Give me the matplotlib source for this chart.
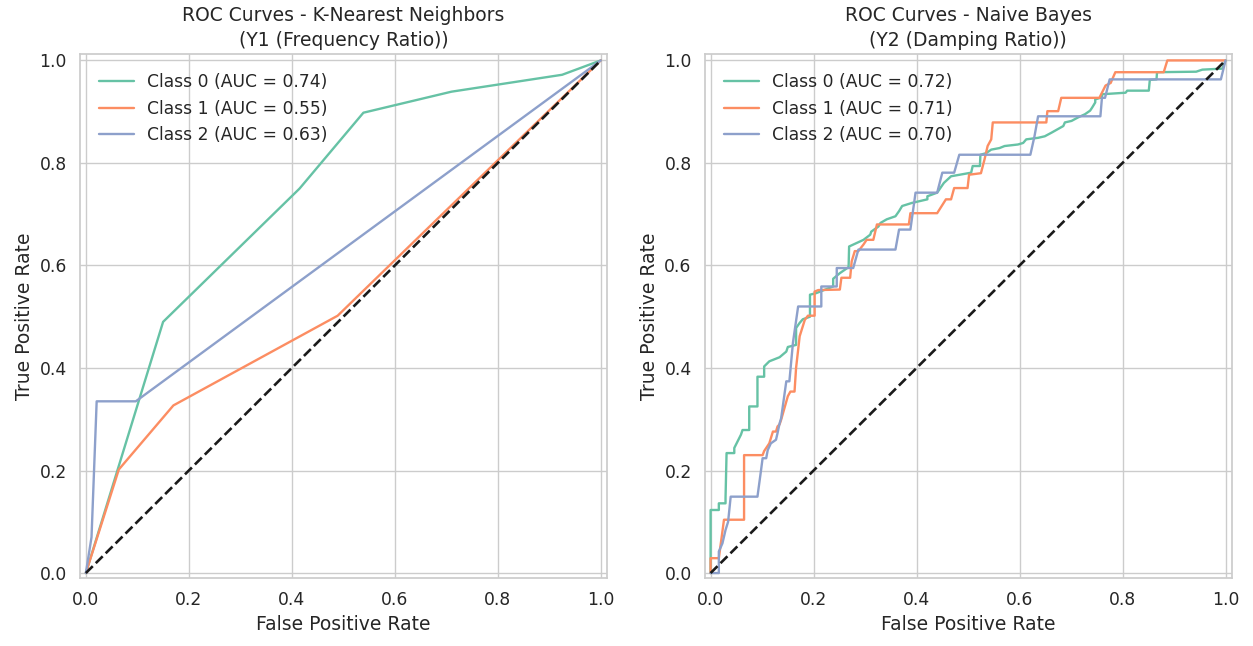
import matplotlib
matplotlib.use("Agg")
import matplotlib.pyplot as plt
import seaborn as sns

sns.set_theme(style="whitegrid")
plt.rcParams['font.family'] = ['DejaVu Sans']
plt.rcParams['xtick.labelsize'] = 12.3
plt.rcParams['ytick.labelsize'] = 12.3
plt.rcParams['axes.labelsize'] = 13.5
plt.rcParams['axes.titlesize'] = 13.5

colors = sns.color_palette("Set2", 3)

# K-Nearest Neighbors - Y1 (Frequency Ratio)
knn_fpr0 = [0.0, 0.150, 0.415, 0.539, 0.710, 0.925, 1.0]
knn_tpr0 = [0.0, 0.490, 0.750, 0.898, 0.939, 0.972, 1.0]
knn_fpr1 = [0.0, 0.064, 0.170, 0.489, 1.0]
knn_tpr1 = [0.0, 0.202, 0.327, 0.502, 1.0]
knn_fpr2 = [0.0, 0.011, 0.021, 0.097, 1.0]
knn_tpr2 = [0.0, 0.070, 0.335, 0.335, 1.0]
knn_auc = [0.74, 0.55, 0.63]

# Naive Bayes - Y2 (Damping Ratio)
nb_fpr0 = [0.0, 0.0, 0.016, 0.016, 0.029, 0.029, 0.031, 0.046, 0.046, 0.059,
           0.062, 0.075, 0.075, 0.091, 0.091, 0.104, 0.104, 0.114, 0.124, 0.134,
           0.147, 0.150, 0.166, 0.166, 0.173, 0.179, 0.193, 0.193, 0.205, 0.238,
           0.238, 0.251, 0.264, 0.268, 0.269, 0.284, 0.297, 0.310, 0.312, 0.326,
           0.330, 0.342, 0.359, 0.366, 0.372, 0.391, 0.421, 0.421, 0.440, 0.453,
           0.467, 0.506, 0.509, 0.523, 0.524, 0.535, 0.545, 0.561, 0.571, 0.597,
           0.607, 0.613, 0.636, 0.649, 0.662, 0.685, 0.688, 0.701, 0.714, 0.727,
           0.737, 0.741, 0.747, 0.747, 0.760, 0.760, 0.806, 0.809, 0.851, 0.853,
           0.866, 0.867, 0.943, 0.955, 0.994, 1.0]
nb_tpr0 = [0.0, 0.123, 0.123, 0.136, 0.136, 0.146, 0.234, 0.234, 0.244, 0.270,
           0.279, 0.279, 0.325, 0.325, 0.383, 0.383, 0.403, 0.413, 0.417, 0.421,
           0.432, 0.441, 0.445, 0.478, 0.488, 0.495, 0.500, 0.543, 0.546, 0.559,
           0.574, 0.585, 0.594, 0.597, 0.637, 0.644, 0.650, 0.660, 0.666, 0.676,
           0.683, 0.690, 0.696, 0.706, 0.716, 0.722, 0.729, 0.735, 0.742, 0.761,
           0.774, 0.781, 0.794, 0.794, 0.816, 0.819, 0.826, 0.829, 0.833, 0.836,
           0.839, 0.846, 0.849, 0.852, 0.859, 0.872, 0.879, 0.882, 0.889, 0.895,
           0.902, 0.908, 0.918, 0.924, 0.928, 0.934, 0.937, 0.941, 0.941, 0.962,
           0.963, 0.977, 0.978, 0.982, 0.984, 1.0]
nb_fpr1 = [0.0, 0.0, 0.016, 0.026, 0.065, 0.065, 0.101, 0.104, 0.114, 0.121,
           0.127, 0.130, 0.134, 0.137, 0.150, 0.155, 0.163, 0.166, 0.173, 0.183,
           0.189, 0.202, 0.202, 0.209, 0.251, 0.254, 0.271, 0.274, 0.280, 0.287,
           0.297, 0.303, 0.316, 0.323, 0.385, 0.388, 0.440, 0.457, 0.467, 0.473,
           0.499, 0.502, 0.525, 0.532, 0.538, 0.545, 0.548, 0.652, 0.654, 0.675,
           0.681, 0.755, 0.767, 0.777, 0.786, 0.880, 0.887, 1.0]
nb_tpr1 = [0.0, 0.029, 0.029, 0.104, 0.104, 0.230, 0.230, 0.238, 0.253, 0.276,
           0.276, 0.286, 0.290, 0.299, 0.345, 0.354, 0.354, 0.400, 0.462, 0.494,
           0.502, 0.502, 0.549, 0.552, 0.553, 0.576, 0.576, 0.608, 0.628, 0.628,
           0.641, 0.650, 0.650, 0.680, 0.680, 0.702, 0.702, 0.729, 0.729, 0.751,
           0.751, 0.777, 0.780, 0.807, 0.833, 0.846, 0.879, 0.879, 0.901, 0.901,
           0.927, 0.927, 0.951, 0.956, 0.977, 0.977, 1.0, 1.0]
nb_fpr2 = [0.0, 0.016, 0.016, 0.023, 0.029, 0.034, 0.039, 0.091, 0.098, 0.101,
           0.108, 0.111, 0.117, 0.127, 0.130, 0.134, 0.137, 0.147, 0.153, 0.160,
           0.170, 0.215, 0.215, 0.245, 0.245, 0.277, 0.287, 0.359, 0.366, 0.388,
           0.398, 0.440, 0.450, 0.473, 0.483, 0.621, 0.629, 0.636, 0.757, 0.760,
           0.766, 0.775, 0.991, 1.0]
nb_tpr2 = [0.0, 0.0, 0.042, 0.058, 0.084, 0.100, 0.149, 0.149, 0.201, 0.224,
           0.224, 0.240, 0.253, 0.260, 0.273, 0.292, 0.302, 0.374, 0.374, 0.450,
           0.520, 0.520, 0.559, 0.559, 0.595, 0.595, 0.631, 0.631, 0.670, 0.670,
           0.742, 0.742, 0.781, 0.781, 0.816, 0.816, 0.852, 0.891, 0.891, 0.927,
           0.927, 0.963, 0.963, 1.0]
nb_auc = [0.72, 0.71, 0.70]

panels = [
    ("ROC Curves - K-Nearest Neighbors\n(Y1 (Frequency Ratio))",
     [(knn_fpr0, knn_tpr0), (knn_fpr1, knn_tpr1), (knn_fpr2, knn_tpr2)], knn_auc),
    ("ROC Curves - Naive Bayes\n(Y2 (Damping Ratio))",
     [(nb_fpr0, nb_tpr0), (nb_fpr1, nb_tpr1), (nb_fpr2, nb_tpr2)], nb_auc),
]

fig, axes = plt.subplots(1, 2, figsize=(12.53, 6.46), dpi=100)
fig.subplots_adjust(left=0.064, right=0.983, bottom=0.105, top=0.916, wspace=0.186)

for ax, (title, curves, aucs) in zip(axes, panels):
    for i, (fpr, tpr) in enumerate(curves):
        ax.plot(fpr, tpr, color=colors[i], lw=1.7,
                label=f"Class {i} (AUC = {aucs[i]:.2f})")
    ax.plot([0, 1], [0, 1], 'k--', lw=1.9)
    ax.set_xlim(-0.011, 1.012)
    ax.set_ylim(-0.01, 1.012)
    ax.set_xlabel("False Positive Rate")
    ax.set_ylabel("True Positive Rate")
    ax.set_title(title, pad=6, linespacing=1.4)
    ax.legend(loc="upper left", frameon=False, fontsize=12.3,
              handlelength=2.05, handletextpad=0.76, labelspacing=0.5,
              borderaxespad=0.7)

plt.savefig("out.png", dpi=100)
